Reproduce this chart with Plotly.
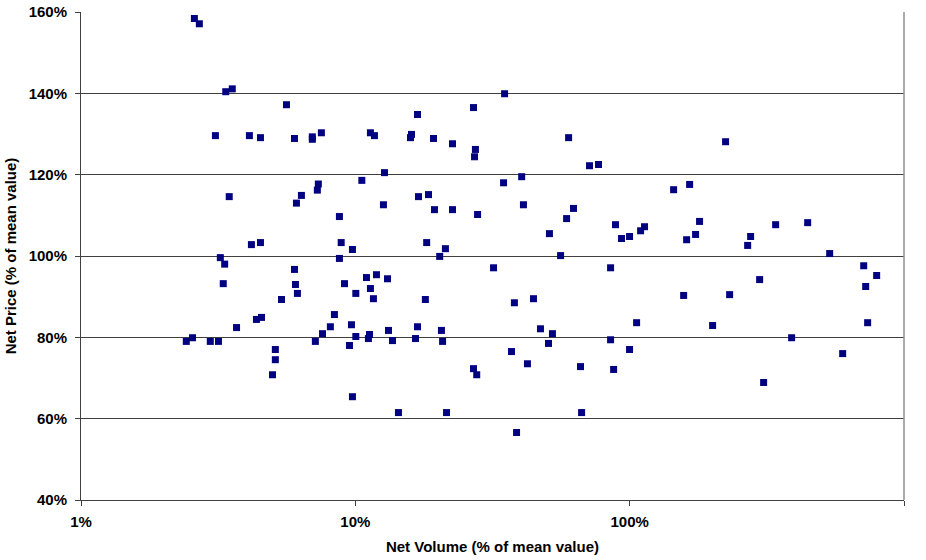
import plotly.graph_objects as go

# Net Volume (% of mean value), log scale
net_volume = [
    2.59, 2.70, 3.37, 3.56, 5.61, 3.09, 4.11, 4.51, 6.00, 6.97,
    6.97, 7.52, 3.47, 6.10, 6.36, 7.27, 7.33, 8.75, 4.18, 4.51,
    8.88, 9.76, 8.75, 3.22, 3.34, 6.00, 10.56, 3.30, 6.05, 6.15,
    5.38, 9.13, 10.04, 8.39, 9.68, 8.11, 7.59, 7.15, 10.04, 9.52,
    9.76, 3.69, 4.36, 4.55, 2.42, 2.55, 2.96, 3.17, 5.11, 5.11,
    4.99,
    35.0, 26.96, 16.85, 11.35, 11.74, 16.02, 15.89, 19.27, 22.6, 27.4,
    27.2, 59.9, 71.4, 77.0, 223.7, 12.77, 34.7, 40.4, 144.6, 165.4,
    16.99, 18.48, 12.66, 41.0, 19.43, 22.6, 27.9, 62.4, 58.9, 51.0,
    88.8, 93.4, 99.9, 109.6, 113.3, 18.2, 21.3, 20.3, 56.0, 31.9,
    85.2, 10.98, 11.94, 13.10,
    11.35, 11.64, 18.0, 38.0, 44.6, 47.3, 52.3, 50.6, 37.1, 42.4,
    106.0, 99.9, 85.2, 87.4, 66.2, 66.8, 13.21, 16.85, 20.6, 11.26,
    11.16, 13.66, 16.57, 20.8, 26.96, 27.7, 14.36, 21.5, 38.7,
    179.8, 340.5, 445.5, 161.3, 173.9, 276.0, 269.2, 535.8, 713.0, 795.0,
    297.7, 725.0, 157.3, 231.4, 200.6, 737.0, 389.4, 597.6, 307.8,
]

# Net Price (% of mean value)
net_price = [
    158.4, 157.1, 140.4, 141.1, 137.2, 129.6, 129.6, 129.1, 128.9, 129.3,
    128.7, 130.3, 114.6, 113.0, 114.9, 116.2, 117.7, 109.7, 102.8, 103.3,
    103.3, 101.6, 99.4, 99.6, 98.0, 96.7, 118.6, 93.2, 93.0, 90.8,
    89.3, 93.2, 90.8, 85.6, 83.1, 82.6, 80.9, 79.0, 80.2, 78.0,
    65.4, 82.4, 84.4, 84.9, 79.0, 79.9, 79.0, 79.0, 77.0, 74.5,
    70.8,
    139.9, 136.5, 134.8, 130.3, 129.6, 129.9, 129.1, 128.9, 127.6, 126.2,
    124.4, 129.1, 122.2, 122.5, 128.1, 120.5, 118.0, 119.5, 116.3, 117.6,
    114.6, 115.1, 112.6, 112.6, 111.4, 111.4, 110.2, 111.7, 109.2, 105.5,
    107.7, 104.3, 104.8, 106.2, 107.2, 103.3, 101.8, 99.9, 100.1, 97.1,
    97.1, 94.7, 95.4, 94.4,
    92.0, 89.5, 89.3, 88.5, 89.5, 82.1, 80.9, 78.5, 76.5, 73.5,
    83.6, 77.0, 79.4, 72.1, 72.8, 61.5, 81.7, 82.6, 81.7, 80.7,
    79.7, 79.2, 79.7, 79.0, 72.3, 70.8, 61.5, 61.5, 56.6,
    108.5, 107.7, 108.2, 104.0, 105.3, 104.8, 102.6, 100.6, 97.6, 95.2,
    94.2, 92.5, 90.3, 90.5, 82.9, 83.6, 79.9, 76.0, 68.9,
]

x_tickvals = [1, 10, 100, 1000]
x_ticktext = ["1%", "10%", "100%", "1000%"]
y_tickvals = [40, 60, 80, 100, 120, 140, 160]
y_ticktext = ["40%", "60%", "80%", "100%", "120%", "140%", "160%"]

FONT = "Liberation Sans, Arial, sans-serif"

fig = go.Figure(
    go.Scatter(
        x=net_volume,
        y=net_price,
        mode="markers",
        marker=dict(symbol="square", size=7, color="#000080", line=dict(width=0)),
        hoverinfo="x+y",
    )
)

fig.update_layout(
    width=926,
    height=560,
    margin=dict(l=81, r=22, t=12, b=60, autoexpand=False),
    paper_bgcolor="white",
    plot_bgcolor="white",
    showlegend=False,
    font=dict(family=FONT, size=15, color="black"),
    xaxis=dict(
        type="log",
        range=[0, 3],
        automargin=False,
        tickvals=x_tickvals,
        ticktext=x_ticktext,
        showgrid=False,
        zeroline=False,
        showline=True,
        linecolor="#404040",
        linewidth=1,
        ticks="outside",
        ticklen=5,
        tickcolor="#404040",
        ticklabelstandoff=3,
        tickfont=dict(family=FONT, size=15, color="black", weight="bold"),
        title=dict(
            text="<b>Net Volume (% of mean value)</b>",
            font=dict(family=FONT, size=15, color="black"),
            standoff=12,
        ),
    ),
    yaxis=dict(
        range=[40, 160],
        automargin=False,
        tickvals=y_tickvals,
        ticktext=y_ticktext,
        showgrid=True,
        gridcolor="#404040",
        gridwidth=1,
        zeroline=False,
        showline=True,
        linecolor="#404040",
        linewidth=1,
        ticks="outside",
        ticklen=5,
        tickcolor="#404040",
        ticklabelstandoff=5,
        tickfont=dict(family=FONT, size=15, color="black", weight="bold"),
        title=dict(
            text="<b>Net Price (% of mean value)</b>",
            font=dict(family=FONT, size=15, color="black"),
            standoff=8,
        ),
    ),
    shapes=[
        dict(type="line", xref="paper", yref="paper", x0=1, x1=1, y0=0, y1=1,
             line=dict(color="#909090", width=1.5)),
    ],
)

fig.write_html(
    "out.html",
    config={"displayModeBar": False},
    post_script="document.body.style.margin='0';document.body.style.overflow='hidden';",
)
